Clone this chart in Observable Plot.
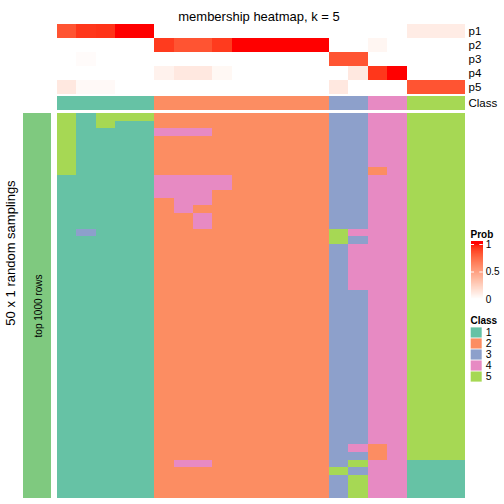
<!DOCTYPE html>
<html><head><meta charset="utf-8">
<script src="https://cdn.jsdelivr.net/npm/d3@7"></script>
<script src="https://cdn.jsdelivr.net/npm/@observablehq/plot@0.6"></script>
<style>
html,body{margin:0;padding:0;background:#fff;}
#chart{position:relative;width:504px;height:504px;overflow:hidden;font-family:"Liberation Sans",Arial,sans-serif;}
#chart svg{position:absolute;left:0;top:0;}
</style></head><body><div id="chart"></div>
<script>
const W = 504, H = 504;
const title = "membership heatmap, k = 5";
const probNames = ["p1", "p2", "p3", "p4", "p5"];
const p1 = [0.83, 0.92, 0.93, 1, 1, 0, 0, 0, 0, 0, 0, 0, 0, 0, 0, 0, 0, 0, 0.1, 0.1, 0.1];
const p2 = [0, 0, 0, 0, 0, 0.91, 0.83, 0.83, 0.91, 1, 1, 1, 1, 1, 0, 0, 0.05, 0, 0, 0, 0];
const p3 = [0, 0.02, 0, 0, 0, 0, 0, 0, 0, 0, 0, 0, 0, 0, 0.83, 0.83, 0, 0, 0, 0, 0];
const p4 = [0, 0, 0, 0, 0, 0.07, 0.12, 0.12, 0.04, 0, 0, 0, 0, 0, 0, 0.12, 0.92, 1, 0, 0, 0];
const p5 = [0.12, 0.03, 0.03, 0, 0, 0, 0, 0, 0, 0, 0, 0, 0, 0, 0.12, 0, 0, 0, 0.83, 0.83, 0.83];
const classRow = [1, 1, 1, 1, 1, 2, 2, 2, 2, 2, 2, 2, 2, 2, 3, 3, 4, 4, 5, 5, 5];
const classIds = [1, 2, 3, 4, 5];
const classColors = ["#66C2A5", "#FC8D62", "#8DA0CB", "#E78AC3", "#A6D854"];
const probTicks = [0, 0.5, 1];
const samplingLabel = "50 x 1 random samplings";
const barLabel = "top 1000 rows";
const barColor = "#7FC97F";
// 50 random samplings x 21 columns, class per cell
const samplingRows = [
  "51555|222222222|33|44|555",
  "51511|222222222|33|44|555",
  "51111|444222222|33|44|555",
  "51111|222222222|33|44|555",
  "51111|222222222|33|44|555",
  "51111|222222222|33|44|555",
  "51111|222222222|33|44|555",
  "51111|222222222|33|24|555",
  "11111|444422222|33|44|555",
  "11111|444422222|33|44|555",
  "11111|444222222|33|44|555",
  "11111|244222222|33|44|555",
  "11111|242222222|33|44|555",
  "11111|224222222|33|44|555",
  "11111|224222222|33|44|555",
  "13111|222222222|54|44|555",
  "11111|222222222|53|44|555",
  "11111|222222222|34|44|555",
  "11111|222222222|34|44|555",
  "11111|222222222|34|44|555",
  "11111|222222222|34|44|555",
  "11111|222222222|34|44|555",
  "11111|222222222|34|44|555",
  "11111|222222222|33|44|555",
  "11111|222222222|33|44|555",
  "11111|222222222|33|44|555",
  "11111|222222222|33|44|555",
  "11111|222222222|33|44|555",
  "11111|222222222|33|44|555",
  "11111|222222222|33|44|555",
  "11111|222222222|33|44|555",
  "11111|222222222|33|44|555",
  "11111|222222222|33|44|555",
  "11111|222222222|33|44|555",
  "11111|222222222|33|44|555",
  "11111|222222222|33|44|555",
  "11111|222222222|33|44|555",
  "11111|222222222|33|44|555",
  "11111|222222222|33|44|555",
  "11111|222222222|33|44|555",
  "11111|222222222|33|44|555",
  "11111|222222222|33|44|555",
  "11111|222222222|33|44|555",
  "11111|222222222|34|24|555",
  "11111|222222222|33|24|555",
  "11111|244222222|35|44|111",
  "11111|222222222|53|44|111",
  "11111|222222222|35|44|111",
  "11111|222222222|35|44|111",
  "11111|222222222|35|44|111"
];

const FONT = "'Liberation Sans', Arial, sans-serif";
const nCol = classRow.length;
const cols = d3.range(nCol);
const rowIds = d3.range(samplingRows.length);
const baseStyle = {background: "transparent", fontFamily: FONT, position: "absolute", left: "0px", top: "0px", overflow: "visible"};
const heatX = {domain: cols, padding: 0, round: false, axis: null};
const classColor = {type: "ordinal", domain: classIds, range: classColors};
const probColor = {type: "linear", domain: [0, 1], range: ["#ffffff", "#ff0000"], interpolate: d3.interpolateLab};

const chart = document.getElementById("chart");

// top probability heatmap
const probSeries = [p1, p2, p3, p4, p5];
const probData = probNames.flatMap((p, i) => probSeries[i].map((v, c) => ({p, c, v})));
chart.appendChild(Plot.plot({
  width: W, height: H, marginLeft: 57, marginRight: W - 465, marginTop: 24, marginBottom: H - 94,
  style: {...baseStyle, fontSize: "11.5px"},
  x: heatX,
  y: {domain: probNames, padding: 0, round: false, axis: "right", tickSize: 0, tickPadding: 3, label: null},
  color: probColor,
  marks: [
    Plot.cell(probData, {x: "c", y: "p", fill: "v", inset: 0, shapeRendering: "crispEdges"}),
    Plot.text([title], {frameAnchor: "top", textAnchor: "middle", dx: -2.5, dy: -13, fontSize: 13, fill: "black"})
  ]
}));

// class annotation row
const classData = classRow.map((k, c) => ({c, k, lab: "Class"}));
chart.appendChild(Plot.plot({
  width: W, height: H, marginLeft: 57, marginRight: W - 465, marginTop: 96, marginBottom: H - 110,
  style: {...baseStyle, fontSize: "11.5px"},
  x: heatX,
  y: {domain: ["Class"], padding: 0, round: false, axis: "right", tickSize: 0, tickPadding: 3, label: null},
  color: classColor,
  marks: [Plot.cell(classData, {x: "c", y: "lab", fill: "k", inset: 0, shapeRendering: "crispEdges"})]
}));

// main heatmap of samplings
const mainData = samplingRows.flatMap((s, r) => s.replace(/\|/g, "").split("").map((ch, c) => ({r, c, k: +ch})));
chart.appendChild(Plot.plot({
  width: W, height: H, marginLeft: 57, marginRight: W - 465, marginTop: 113, marginBottom: H - 498,
  style: baseStyle,
  x: heatX,
  y: {domain: rowIds, padding: 0, round: false, axis: null},
  color: classColor,
  marks: [Plot.cell(mainData, {x: "c", y: "r", fill: "k", inset: 0, shapeRendering: "crispEdges"})]
}));

// left bar with labels
chart.appendChild(Plot.plot({
  width: W, height: H, marginLeft: 23, marginRight: W - 51, marginTop: 113, marginBottom: H - 498,
  style: baseStyle,
  x: {domain: ["bar"], padding: 0, round: false, axis: null},
  y: {domain: ["bar"], padding: 0, round: false, axis: null},
  marks: [
    Plot.cell(["bar"], {x: d => d, y: d => d, fill: barColor, inset: 0}),
    Plot.text([barLabel], {frameAnchor: "middle", textAnchor: "middle", rotate: -90, fontSize: 10, fill: "black", dx: 1, dy: 0}),
    Plot.text([samplingLabel], {frameAnchor: "left", textAnchor: "middle", rotate: -90, fontSize: 13, fill: "black", dx: -13, dy: -53})
  ]
}));

// Prob legend
const ramp = d3.range(0, 1.045, 0.005);
chart.appendChild(Plot.plot({
  width: W, height: H, marginLeft: 470.7, marginRight: W - 482.7, marginTop: 244, marginBottom: H - 299,
  style: {...baseStyle, fontSize: "10px"},
  x: {domain: [0, 1], axis: null},
  y: {domain: [0, 1], axis: "right", ticks: probTicks, tickSize: 0, tickPadding: 2.5, tickFormat: d => String(d), label: null},
  color: probColor,
  marks: [
    Plot.rect(ramp, {x1: 0, x2: 1, y1: d => d, y2: d => d + 0.006, fill: d => Math.min(d, 1), shapeRendering: "crispEdges"}),
    Plot.ruleY(probTicks.slice(1), {x1: 0, x2: 0.28, stroke: "white", strokeWidth: 1}),
    Plot.ruleY(probTicks.slice(1), {x1: 0.72, x2: 1, stroke: "white", strokeWidth: 1}),
    Plot.text(["Prob"], {frameAnchor: "top-left", textAnchor: "start", dx: -0.7, dy: -14, fontWeight: "bold", fontSize: 10, fill: "black"})
  ]
}));

// Class legend
chart.appendChild(Plot.plot({
  width: W, height: H, marginLeft: 470.7, marginRight: W - 481.7, marginTop: 326.5, marginBottom: H - 382.5,
  style: {...baseStyle, fontSize: "10.5px"},
  x: {domain: ["c"], padding: 0, round: false, axis: null},
  y: {domain: classIds, padding: 0.08, round: false, axis: "right", tickSize: 0, tickPadding: 3.5, label: null},
  color: classColor,
  marks: [
    Plot.cell(classIds, {x: () => "c", y: d => d, fill: d => d, inset: 0}),
    Plot.text(["Class"], {frameAnchor: "top-left", textAnchor: "start", dx: -0.7, dy: -10, fontWeight: "bold", fontSize: 10, fill: "black"})
  ]
}));
</script></body></html>
